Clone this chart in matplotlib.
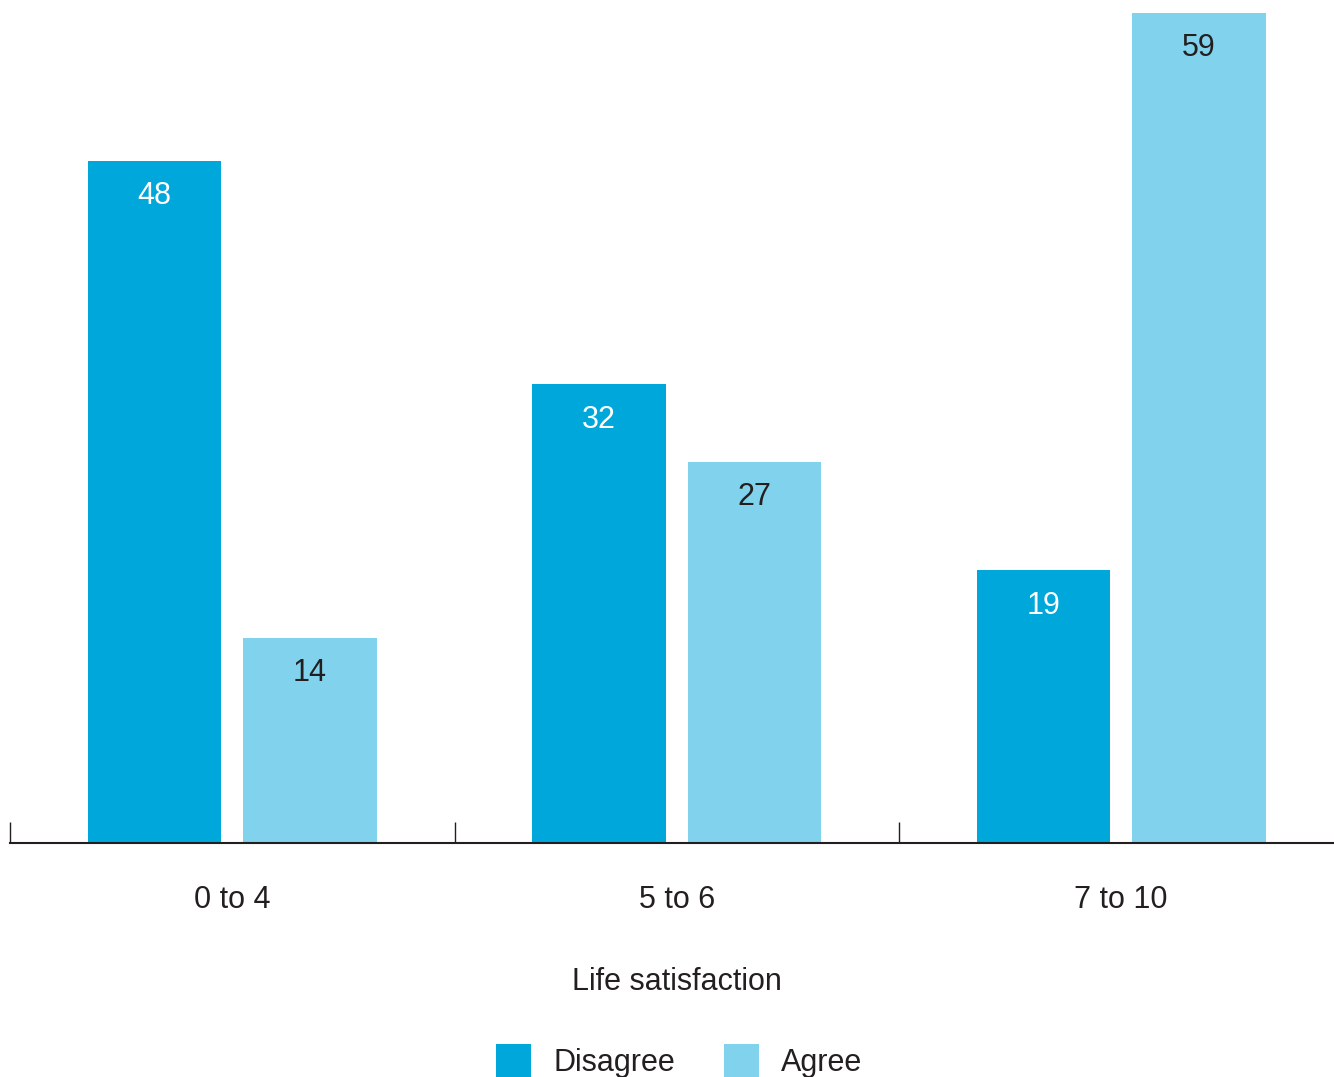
import numpy as np
import matplotlib.pyplot as plt

plt.rcParams['font.family'] = ['Liberation Sans', 'DejaVu Sans']

categories = ['0 to 4', '5 to 6', '7 to 10']
series_names = ['Disagree', 'Agree']
disagree = [48.5, 32.6, 19.4]
agree = [14.6, 27.1, 59.0]
disagree_labels = ['48', '32', '19']
agree_labels = ['14', '27', '59']
colors = ['#00a7db', '#81d2ec']
text_dark = '#231f20'

W, H = 1334, 1077
fig = plt.figure(figsize=(W / 100, H / 100), dpi=100)
# axes runs slightly past the right edge, as in the original
ax = fig.add_axes([10 / W, (H - 843) / H, 1333.5 / W, 830 / H])

x = np.arange(len(categories))
w = 0.3
off = 0.175
b1 = ax.bar(x - off, disagree, w, color=colors[0], label=series_names[0])
b2 = ax.bar(x + off, agree, w, color=colors[1], label=series_names[1])

for bars, labels, tc in [(b1, disagree_labels, 'white'), (b2, agree_labels, text_dark)]:
    for rect, lab in zip(bars, labels):
        ax.annotate(lab, (rect.get_x() + rect.get_width() / 2, rect.get_height()),
                    xytext=(0, -25.5), textcoords='offset points',
                    ha='center', va='center', fontsize=22, color=tc)

ax.set_xlim(-0.5, 2.5)
ax.set_ylim(0, 59)
ax.set_yticks([])
for s in ['top', 'right', 'left']:
    ax.spines[s].set_visible(False)
ax.spines['bottom'].set_color(text_dark)
ax.spines['bottom'].set_linewidth(1.5)

ax.set_xticks(x)
ax.set_xticklabels(categories, fontsize=22, color=text_dark)
ax.tick_params(axis='x', which='major', length=0, pad=30)
ax.set_xticks([-0.5, 0.5, 1.5], minor=True)
ax.tick_params(axis='x', which='minor', direction='in', length=15,
               width=1, color=text_dark)

ax.set_xlabel('Life satisfaction', fontsize=22, color=text_dark, labelpad=38)

fig.legend(loc='lower center', bbox_to_anchor=(0.509, -0.026), ncol=2,
           frameon=False, fontsize=22, handlelength=1.15, handleheight=1.3,
           handletextpad=0.72, columnspacing=1.6, labelcolor=text_dark)

fig.savefig('out.png', dpi=100)
